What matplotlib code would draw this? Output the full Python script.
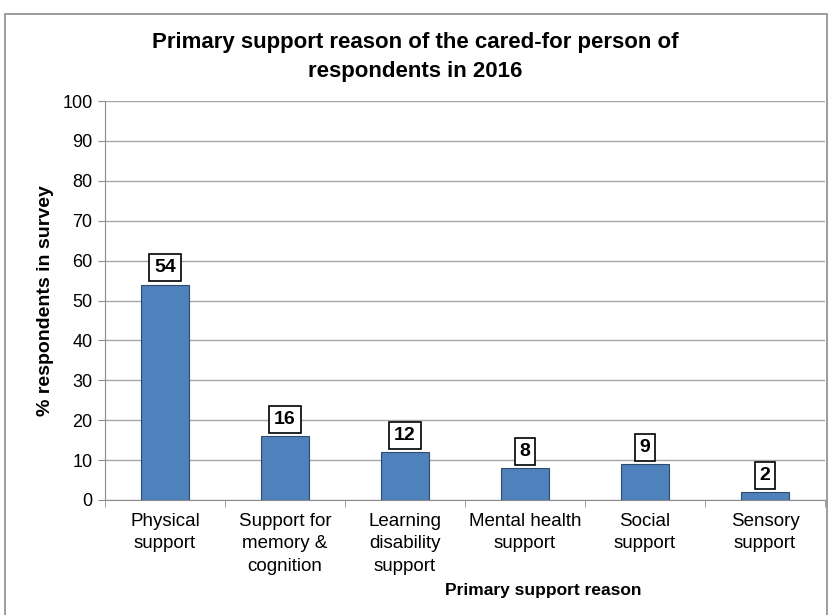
import matplotlib.pyplot as plt
from matplotlib.patches import Rectangle

categories = ['Physical\nsupport', 'Support for\nmemory &\ncognition',
              'Learning\ndisability\nsupport', 'Mental health\nsupport',
              'Social\nsupport', 'Sensory\nsupport']
values = [54, 16, 12, 8, 9, 2]
yticks = list(range(0, 101, 10))

plt.rcParams['font.family'] = ['Liberation Sans', 'DejaVu Sans']

fig = plt.figure(figsize=(8.3, 6.15), dpi=100)
ax = fig.add_axes([105 / 830, 115 / 615, 720 / 830, 399 / 615])

# outer chart frame
fig.patches.append(Rectangle((5 / 830, -0.05), 822 / 830, (615 - 14) / 615 + 0.05,
                             transform=fig.transFigure, fill=False,
                             edgecolor='#8c8c8c', linewidth=1.2))

x = list(range(len(categories)))
ax.bar(x, values, width=0.4, color='#4F81BD', edgecolor='#2f4a6b', linewidth=0.8, zorder=3)

for xi, v in zip(x, values):
    ax.annotate(str(v), (xi, v), xytext=(0, 6), textcoords='offset points',
                ha='center', va='bottom', fontsize=14, fontweight='bold',
                bbox=dict(boxstyle='square,pad=0.25', facecolor='white',
                          edgecolor='black', linewidth=1.2), zorder=4)

ax.set_xlim(-0.5, len(categories) - 0.5)
ax.set_ylim(0, 100)
ax.set_yticks(yticks)
ax.tick_params(axis='y', labelsize=13, length=5, color='#8c8c8c', pad=4)
ax.set_xticks(x)
ax.set_xticklabels(categories, fontsize=13.5, linespacing=1.45)
ax.tick_params(axis='x', length=0, pad=9)
ax.set_xticks([i - 0.5 for i in range(len(categories) + 1)], minor=True)
ax.tick_params(axis='x', which='minor', length=5, color='#8c8c8c')
ax.grid(axis='y', color='#a6a6a6', linewidth=1, zorder=0)

for side in ['top', 'right']:
    ax.spines[side].set_visible(False)
for side in ['left', 'bottom']:
    ax.spines[side].set_color('#8c8c8c')

ax.set_ylabel('% respondents in survey', fontsize=14, fontweight='bold', labelpad=6)
fig.text(543 / 830, 1 - 590 / 615, 'Primary support reason', ha='center', va='center',
         fontsize=12.5, fontweight='bold')
fig.text(0.5, 1 - 57 / 615, 'Primary support reason of the cared-for person of\nrespondents in 2016',
         ha='center', va='center', fontsize=16, fontweight='bold', linespacing=1.55)

fig.savefig('out.png', dpi=100)
